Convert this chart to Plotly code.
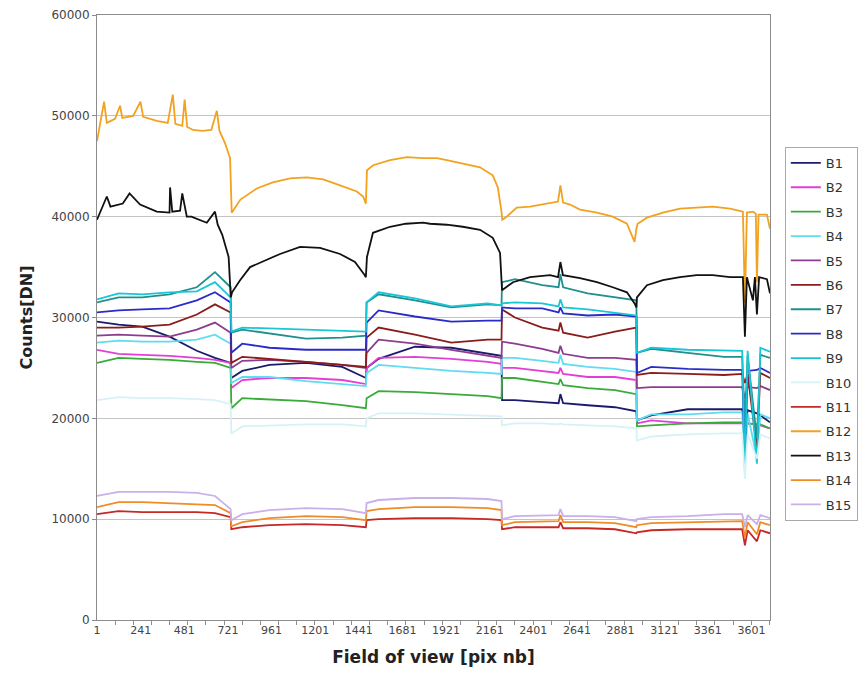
import plotly.graph_objects as go

# Pixel index along the field of view (shared sampling for the smoother bands)
X = [1, 120, 250, 400, 550, 650, 736,
     740, 800, 950, 1150, 1350, 1480,
     1484, 1550, 1750, 1950, 2150, 2226,
     2229, 2300, 2450, 2540, 2550, 2565, 2700, 2850, 2968,
     2971, 3050, 3250, 3450, 3550, 3565, 3580, 3631, 3650, 3703]

B1 = [29600, 29300, 29100, 28100, 26700, 26000, 25500,
      24000, 24700, 25300, 25500, 25100, 24000,
      25000, 25900, 27100, 27000, 26400, 26200,
      21800, 21800, 21600, 21500, 22400, 21500, 21300, 21100, 20700,
      19800, 20300, 20900, 20900, 20900, 19000, 20800, 20500, 20300, 19600]
B2 = [26800, 26400, 26300, 26200, 26000, 25800, 25500,
      23000, 23800, 24000, 24000, 23800, 23400,
      25000, 26000, 26100, 25900, 25600, 25400,
      25000, 25000, 24700, 24500, 25000, 24400, 24100, 24100, 23800,
      19500, 19800, 19500, 19500, 19500, 19400, 19500, 19400, 19300, 19000]
B3 = [25500, 26000, 25900, 25800, 25600, 25500, 25000,
      21000, 22000, 21900, 21700, 21300, 21000,
      22000, 22700, 22600, 22400, 22200, 22000,
      24000, 24000, 23600, 23400, 23900, 23300, 23000, 22800, 22400,
      19200, 19300, 19500, 19600, 19600, 19000, 19500, 19400, 19400, 19000]
B4 = [27500, 27700, 27600, 27600, 27800, 28300, 27400,
      23500, 24100, 24100, 23700, 23400, 23200,
      24500, 25300, 25000, 24700, 24500, 24400,
      26000, 26000, 25700, 25500, 26300, 25400, 25100, 24900, 24600,
      19800, 20400, 20400, 20600, 20600, 15000, 20500, 16000, 20400, 20000]
B5 = [28200, 28300, 28200, 28100, 28800, 29500, 28500,
      25000, 25700, 25800, 25600, 25300, 25000,
      26500, 27800, 27400, 26800, 26200, 26000,
      27600, 27400, 26900, 26500, 27200, 26400, 26000, 26000, 25800,
      23000, 23100, 23100, 23100, 23100, 22000, 23100, 23000, 23200, 22800]
B6 = [29000, 29000, 29100, 29300, 30300, 31300, 30500,
      25500, 26100, 25900, 25600, 25300, 25100,
      28000, 29000, 28300, 27500, 27800, 27800,
      30800, 30000, 29000, 28700, 29500, 28500, 28000, 28600, 29000,
      24300, 24500, 24400, 24300, 24400, 23500, 24400, 17000, 24500, 24000]
B7 = [31500, 32000, 32000, 32300, 33000, 34500, 33000,
      28500, 28800, 28400, 27900, 28000, 28200,
      31500, 32300, 31700, 31000, 31300, 31200,
      33500, 33800, 33200, 33000, 34300, 33000, 32400, 32000, 31700,
      26500, 26900, 26500, 26100, 26100, 19500, 26200, 18000, 26300, 26000]
B8 = [30500, 30700, 30800, 30900, 31700, 32500, 31500,
      26500, 27400, 27000, 26800, 26800, 26800,
      29500, 30700, 30100, 29600, 29700, 29700,
      31000, 30900, 30900, 30500, 31000, 30400, 30200, 30300, 30100,
      24500, 25100, 24900, 24800, 24800, 15000, 24700, 24800, 25000, 24500]
B9 = [31800, 32400, 32300, 32500, 32600, 33500, 32000,
      28600, 29000, 28900, 28800, 28700, 28600,
      31500, 32500, 31900, 31100, 31400, 31200,
      31400, 31500, 31400, 31100, 31800, 31000, 30800, 30500, 30200,
      26500, 27000, 26800, 26700, 26700, 14500, 26700, 15500, 27000, 26600]
B10 = [21800, 22100, 22000, 22000, 21900, 21800, 21400,
       18500, 19200, 19300, 19400, 19400, 19200,
       20000, 20500, 20500, 20400, 20300, 20200,
       19300, 19500, 19500, 19400, 19500, 19400, 19300, 19200, 19000,
       17800, 18200, 18400, 18500, 18500, 14000, 18400, 16000, 18400, 18000]
B11 = [10500, 10800, 10700, 10700, 10700, 10600, 10200,
       9000, 9200, 9400, 9500, 9400, 9200,
       9900, 10000, 10100, 10100, 10000, 9900,
       9000, 9200, 9200, 9200, 9700, 9100, 9100, 9000, 8600,
       8700, 8900, 9000, 9000, 9000, 7400, 8900, 7800, 8900, 8600]
B14 = [11200, 11700, 11700, 11600, 11500, 11400, 10600,
       9300, 9700, 10100, 10300, 10200, 9900,
       10800, 11000, 11200, 11200, 11100, 10900,
       9400, 9700, 9800, 9800, 10400, 9700, 9700, 9600, 9200,
       9400, 9600, 9700, 9800, 9800, 8200, 9700, 8500, 9700, 9400]
B15 = [12300, 12700, 12700, 12700, 12600, 12300, 11000,
       9900, 10500, 10900, 11100, 11000, 10600,
       11600, 11900, 12100, 12100, 12000, 11800,
       10000, 10300, 10400, 10400, 11000, 10300, 10300, 10200, 9800,
       10000, 10200, 10300, 10500, 10500, 9200, 10400, 9500, 10400, 10100]

# The two brightest bands carry more spikes, so they get their own sampling
X_B12 = [1, 17, 40, 55, 100, 128, 140, 200, 240, 255, 330, 390, 418, 432, 470, 483, 497,
         530, 580, 630, 660, 675, 705, 733,
         742, 790, 880, 968, 1063, 1155, 1245, 1338, 1430, 1465, 1480,
         1486, 1520, 1613, 1705, 1795, 1870, 1925, 2013, 2108, 2178, 2206, 2226,
         2230, 2255, 2310, 2383, 2475, 2537, 2550, 2565, 2603, 2658, 2751, 2838, 2916, 2958, 2968,
         2975, 3026, 3114, 3208, 3300, 3388, 3483, 3554, 3565, 3576, 3609, 3625, 3631, 3640, 3686, 3703]
B12 = [47500, 49000, 51400, 49300, 49700, 51000, 49800, 50000, 51400, 49900, 49500, 49300, 52100, 49200, 49000, 51600, 48900,
       48600, 48500, 48600, 50500, 48500, 47300, 45800,
       40400, 41700, 42800, 43400, 43800, 43900, 43700, 43100, 42500, 42000, 41300,
       44600, 45100, 45600, 45900, 45800, 45800, 45600, 45300, 44900, 44100, 42900, 40500,
       39700, 40000, 40900, 41000, 41300, 41500, 43100, 41400, 41200, 40700, 40400, 40000, 39300, 37500, 38800,
       39300, 39900, 40400, 40800, 40900, 41000, 40800, 40500, 31500, 40400, 40500, 40300, 33500, 40200, 40200, 38800]

X_B13 = [1, 30, 55, 75, 143, 180, 238, 330, 400, 403, 415, 458, 470, 495, 520, 605, 650, 665, 690, 725, 737,
         744, 788, 843, 936, 1008, 1118, 1228, 1338, 1420, 1470, 1480,
         1486, 1519, 1613, 1700, 1795, 1833, 1925, 2013, 2108, 2178, 2218, 2226,
         2229, 2289, 2383, 2493, 2537, 2550, 2564, 2658, 2751, 2838, 2916, 2958, 2968,
         2971, 3026, 3114, 3208, 3300, 3388, 3483, 3554, 3565, 3576, 3609, 3620, 3631, 3643, 3686, 3703]
B13 = [39700, 41000, 42000, 41000, 41300, 42300, 41200, 40500, 40400, 42900, 40500, 40600, 42300, 40000, 40000, 39400, 40500, 39200, 38200, 36000, 32000,
       32500, 33700, 35000, 35700, 36300, 37000, 36900, 36300, 35500, 34300, 34000,
       36000, 38400, 39000, 39300, 39400, 39300, 39200, 39000, 38700, 37900, 36400, 33000,
       32700, 33500, 34000, 34200, 34000, 35500, 34200, 33900, 33500, 33000, 32500, 31400, 31000,
       32000, 33200, 33700, 34000, 34200, 34200, 34000, 34000, 28100, 34000, 31700, 34000, 30300, 34000, 33800, 32400]

NAMES = ["B1", "B2", "B3", "B4", "B5", "B6", "B7", "B8",
         "B9", "B10", "B11", "B12", "B13", "B14", "B15"]
COLORS = ["#1b1b6b", "#e23fd6", "#3aaa3a", "#5fdcef", "#8e3c8e",
          "#8b1c1c", "#1f8f8f", "#2b2bc8", "#19c6d6", "#d6f2f6",
          "#c62828", "#f2a21f", "#111111", "#f08c28", "#c9b0e8"]

X_TICKS = [1, 241, 481, 721, 961, 1201, 1441, 1681, 1921,
           2161, 2401, 2641, 2881, 3121, 3361, 3601]
Y_TICKS = [0, 10000, 20000, 30000, 40000, 50000, 60000]

series = {
    "B1": (X, B1), "B2": (X, B2), "B3": (X, B3), "B4": (X, B4), "B5": (X, B5),
    "B6": (X, B6), "B7": (X, B7), "B8": (X, B8), "B9": (X, B9), "B10": (X, B10),
    "B11": (X, B11), "B12": (X_B12, B12), "B13": (X_B13, B13),
    "B14": (X, B14), "B15": (X, B15),
}

fig = go.Figure()
for name, color in zip(NAMES, COLORS):
    xs, ys = series[name]
    fig.add_trace(go.Scatter(
        x=xs, y=ys, mode="lines", name=name, legendgroup=name,
        line=dict(color=color, width=1.8),
    ))

fig.update_layout(
    width=858, height=686,
    margin=dict(l=97, r=88, t=15, b=66, autoexpand=False),
    paper_bgcolor="white", plot_bgcolor="white",
    font=dict(family="DejaVu Sans", color="#222222"),
    showlegend=True,
    legend=dict(
        x=1.022, xanchor="left", y=0.782, yanchor="top",
        bgcolor="white", bordercolor="#aaaaaa", borderwidth=1,
        font=dict(family="DejaVu Sans", size=13, color="#333333"),
        tracegroupgap=4.5, itemwidth=30,
    ),
    xaxis=dict(
        range=[1, 3703], tickmode="array", tickvals=X_TICKS,
        ticktext=[str(v) for v in X_TICKS], ticks="",
        tickfont=dict(family="DejaVu Sans", size=11, color="#444444"),
        showgrid=False, zeroline=False,
        showline=True, linecolor="#8c8c8c", linewidth=1, mirror=True,
        minor=dict(tickmode="linear", tick0=0, dtick=100, ticks="outside",
                   ticklen=4, tickcolor="#8c8c8c", showgrid=False),
        title=dict(text="<b>Field of view [pix nb]</b>", standoff=14,
                   font=dict(family="DejaVu Sans", size=17, color="#222222")),
    ),
    yaxis=dict(
        range=[0, 60000], tickmode="array", tickvals=Y_TICKS,
        ticktext=[str(v) for v in Y_TICKS],
        ticks="outside", ticklen=4, tickcolor="#8c8c8c",
        tickfont=dict(family="DejaVu Sans", size=12, color="#444444"),
        showgrid=True, gridcolor="#c4c4c4", gridwidth=1, zeroline=False,
        showline=True, linecolor="#8c8c8c", linewidth=1, mirror=True,
        title=dict(text="<b>Counts[DN]</b>", standoff=14,
                   font=dict(family="DejaVu Sans", size=16, color="#222222")),
    ),
)

fig.write_html("out.html")
